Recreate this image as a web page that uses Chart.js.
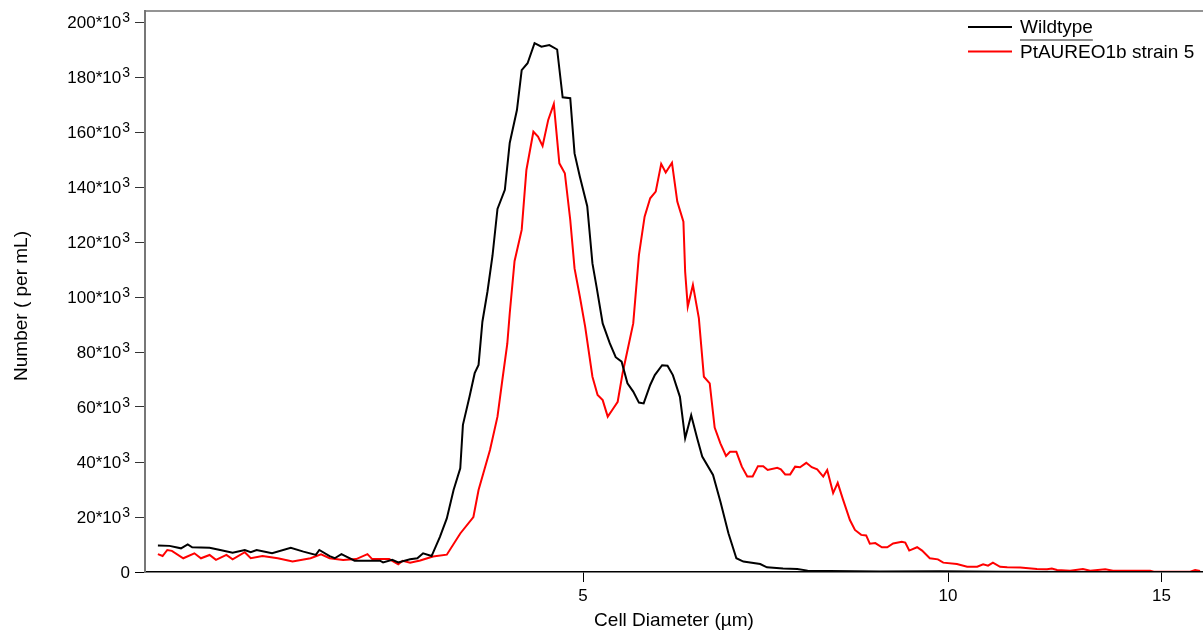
<!DOCTYPE html>
<html>
<head>
<meta charset="utf-8">
<script src="https://cdn.jsdelivr.net/npm/chart.js@4.4.0/dist/chart.umd.min.js"></script>
<style>
    html, body { margin: 0; padding: 0; background: #ffffff; }
</style>
</head>
<body>
<canvas id="myChart" width="1203" height="633"></canvas>
<script>
// Wildtype: cell diameter (µm) and number per mL
const wtDiameter = [2.23, 2.28, 2.33, 2.36, 2.38, 2.46, 2.51, 2.57, 2.63, 2.66,
    2.69, 2.77, 2.87, 2.94, 3.01, 3.03, 3.09, 3.12, 3.16, 3.19,
    3.24, 3.40, 3.42, 3.48, 3.52, 3.60, 3.65, 3.69, 3.75, 3.81,
    3.86, 3.91, 3.96, 3.98, 4.03, 4.07, 4.10, 4.13, 4.17, 4.21,
    4.25, 4.31, 4.35, 4.41, 4.45, 4.50, 4.56, 4.62, 4.69, 4.76,
    4.81, 4.88, 4.92, 4.97, 5.04, 5.09, 5.13, 5.19, 5.26, 5.32,
    5.38, 5.44, 5.50, 5.56, 5.61, 5.68, 5.73, 5.81, 5.87, 5.93,
    6.01, 6.07, 6.14, 6.21, 6.27, 6.40, 6.49, 6.59, 6.69, 6.78,
    7.00, 7.09, 7.31, 7.51, 7.66, 7.99, 8.79, 9.85, 11.04, 13.35,
    16.14];
const wtCount = [9600, 9500, 8600, 10000, 9000, 8800, 8000, 7000, 8000, 7200,
    8000, 6800, 8800, 7400, 6200, 8000, 5800, 5000, 6500, 5600,
    4100, 4100, 3500, 4400, 3500, 4600, 5000, 6800, 5800, 12800,
    19500, 29800, 37700, 53500, 63700, 72300, 75300, 91000, 102000, 115000,
    132000, 139000, 156000, 168000, 182500, 185000, 192300, 191000, 191600, 190000,
    172600, 172300, 152200, 143700, 133000, 112200, 103700, 90400, 83200, 78100,
    76500, 68600, 65600, 61600, 61300, 68000, 71600, 75200, 75000, 71600,
    63700, 48600, 57000, 48600, 42000, 35300, 25600, 14100, 5000, 3800,
    2900, 1700, 1300, 1100, 500, 400, 200, 300, 50, 0,
    0];

// PtAUREO1b strain 5
const mutDiameter = [2.23, 2.25, 2.27, 2.29, 2.34, 2.39, 2.42, 2.46, 2.49, 2.54,
    2.57, 2.63, 2.66, 2.72, 2.80, 2.88, 2.98, 3.04, 3.09, 3.17,
    3.25, 3.32, 3.35, 3.46, 3.52, 3.55, 3.60, 3.67, 3.72, 3.76,
    3.86, 3.96, 4.06, 4.10, 4.19, 4.25, 4.29, 4.33, 4.35, 4.39,
    4.45, 4.49, 4.55, 4.59, 4.63, 4.68, 4.73, 4.78, 4.83, 4.88,
    4.92, 4.97, 5.02, 5.09, 5.14, 5.19, 5.24, 5.29, 5.34, 5.39,
    5.50, 5.56, 5.62, 5.68, 5.74, 5.80, 5.85, 5.92, 5.98, 6.05,
    6.07, 6.10, 6.16, 6.23, 6.29, 6.36, 6.42, 6.49, 6.56, 6.61,
    6.69, 6.76, 6.83, 6.90, 6.97, 7.04, 7.10, 7.23, 7.28, 7.34,
    7.41, 7.48, 7.55, 7.64, 7.72, 7.80, 7.89, 7.95, 8.04, 8.11,
    8.19, 8.30, 8.38, 8.48, 8.56, 8.62, 8.71, 8.82, 8.91, 9.01,
    9.16, 9.22, 9.29, 9.43, 9.52, 9.66, 9.81, 9.91, 10.17, 10.37,
    10.57, 10.69, 10.79, 10.89, 11.04, 11.19, 11.47, 11.84, 12.07, 12.18,
    12.30, 12.61, 12.92, 13.10, 13.48, 13.68, 14.68, 14.78, 15.84, 15.99,
    16.14];
const mutCount = [6500, 5800, 8000, 7700, 5000, 6800, 5000, 6200, 4400, 6200,
    4600, 7200, 5000, 5800, 5000, 3800, 5000, 6400, 5000, 4400,
    4700, 6500, 4700, 4700, 2800, 4100, 3400, 4200, 5000, 5600,
    6300, 14000, 20000, 29800, 44400, 56500, 70000, 83000, 94000, 113000,
    124400, 146200, 160100, 158300, 154900, 164400, 170200, 148600, 145000, 128000,
    110400, 100100, 89200, 71000, 64400, 62500, 56500, 59200, 61900, 72300,
    90400, 115300, 129200, 135900, 138300, 148400, 145300, 148800, 134700, 127400,
    109200, 96500, 104400, 92300, 71000, 68600, 52500, 46800, 42200, 43700,
    43700, 38300, 34700, 34700, 38500, 38500, 37100, 37900, 37300, 35500,
    35500, 38300, 38100, 39700, 38100, 37300, 34700, 37100, 28700, 32400,
    26500, 18900, 15300, 13500, 13300, 10300, 10500, 9000, 9000, 10400,
    11000, 10700, 7800, 9000, 7800, 5000, 4600, 3400, 2900, 1900,
    1900, 2800, 2300, 3400, 1900, 1700, 1600, 1100, 1000, 1300,
    700, 500, 1100, 500, 1000, 500, 500, 100, 100, 700,
    400];

const seriesNames = ['Wildtype', 'PtAUREO1b strain 5'];
const seriesColors = ['#000000', '#ff0000'];
const xTicks = [5, 10, 15];
const yTicks = [0, 20000, 40000, 60000, 80000, 100000, 120000, 140000, 160000, 180000, 200000];
const xRange = [2.176, 16.23];
const yRange = [0, 204000];

const FONT = '"Liberation Sans", Arial, sans-serif';
Chart.defaults.font.family = FONT;
Chart.defaults.color = '#000';

function toPoints(xs, ys) {
    return xs.map((x, i) => ({ x: x, y: ys[i] }));
}

// draws the top frame, y labels with exponent, y title and legend
const overlay = {
    id: 'overlay',
    afterDraw(chart) {
        const ctx = chart.ctx;
        const area = chart.chartArea;
        const yScale = chart.scales.y;
        ctx.save();

        ctx.strokeStyle = '#707070';
        ctx.lineWidth = 1.5;
        ctx.beginPath();
        ctx.moveTo(area.left, area.top);
        ctx.lineTo(area.right, area.top);
        ctx.stroke();

        ctx.fillStyle = '#000';
        ctx.textAlign = 'right';
        ctx.textBaseline = 'middle';
        const right = area.left - 15;
        yTicks.forEach(v => {
            const y = yScale.getPixelForValue(v);
            if (v === 0) {
                ctx.font = '17px ' + FONT;
                ctx.fillText('0', right, y + 1);
                return;
            }
            ctx.font = '14px ' + FONT;
            ctx.fillText('3', right, y - 4);
            const w = ctx.measureText('3').width;
            ctx.font = '17px ' + FONT;
            ctx.fillText((v / 1000) + '*10', right - w - 1, y + 1);
        });

        // y axis title
        ctx.save();
        ctx.translate(22, 306);
        ctx.rotate(-Math.PI / 2);
        ctx.textAlign = 'center';
        ctx.font = '19px ' + FONT;
        ctx.fillText('Number ( per mL)', 0, 0);
        ctx.restore();

        // legend
        ctx.textAlign = 'left';
        ctx.font = '19px ' + FONT;
        seriesNames.forEach((name, i) => {
            const y = 27 + i * 24.5;
            ctx.strokeStyle = seriesColors[i];
            ctx.lineWidth = 2;
            ctx.beginPath();
            ctx.moveTo(968, y);
            ctx.lineTo(1012, y);
            ctx.stroke();
            ctx.fillText(name, 1020, y + 1);
            if (i === 0) {
                const w = ctx.measureText(name).width;
                ctx.strokeStyle = '#666';
                ctx.lineWidth = 1.5;
                ctx.beginPath();
                ctx.moveTo(1020, y + 13);
                ctx.lineTo(1020 + w, y + 13);
                ctx.stroke();
            }
        });
        ctx.restore();
    }
};

const ctx = document.getElementById('myChart').getContext('2d');
new Chart(ctx, {
    type: 'line',
    data: {
        datasets: [
            {
                label: seriesNames[0],
                data: toPoints(wtDiameter, wtCount),
                borderColor: seriesColors[0],
                borderWidth: 2,
                pointRadius: 0,
                fill: false,
                tension: 0
            },
            {
                label: seriesNames[1],
                data: toPoints(mutDiameter, mutCount),
                borderColor: seriesColors[1],
                borderWidth: 2,
                pointRadius: 0,
                fill: false,
                tension: 0
            }
        ]
    },
    options: {
        responsive: false,
        animation: false,
        layout: { padding: { top: 11, right: 0, bottom: 0, left: 0 } },
        scales: {
            x: {
                type: 'logarithmic',
                min: xRange[0],
                max: xRange[1],
                afterBuildTicks: scale => { scale.ticks = xTicks.map(v => ({ value: v })); },
                afterFit: scale => { scale.height = 61; },
                ticks: {
                    autoSkip: false,
                    maxRotation: 0,
                    padding: 4,
                    font: { size: 17 },
                    color: '#000',
                    callback: v => String(v)
                },
                grid: {
                    drawOnChartArea: false,
                    drawTicks: true,
                    tickLength: 10,
                    color: '#000',
                    lineWidth: 1
                },
                border: { display: true, color: '#000', width: 1.5 },
                title: {
                    display: true,
                    text: 'Cell Diameter (µm)',
                    font: { size: 19 },
                    color: '#000',
                    padding: { top: 4, bottom: 1 }
                }
            },
            y: {
                type: 'linear',
                min: yRange[0],
                max: yRange[1],
                afterBuildTicks: scale => { scale.ticks = yTicks.map(v => ({ value: v })); },
                afterFit: scale => { scale.width = 145; },
                ticks: { display: false },
                grid: {
                    drawOnChartArea: false,
                    drawTicks: true,
                    tickLength: 10,
                    color: c => (c.tick && c.tick.value === 0) ? '#000' : '#333',
                    lineWidth: 1
                },
                border: { display: true, color: '#777', width: 2 }
            }
        },
        plugins: {
            legend: { display: false },
            tooltip: { enabled: false }
        }
    },
    plugins: [overlay]
});
</script>
</body>
</html>
